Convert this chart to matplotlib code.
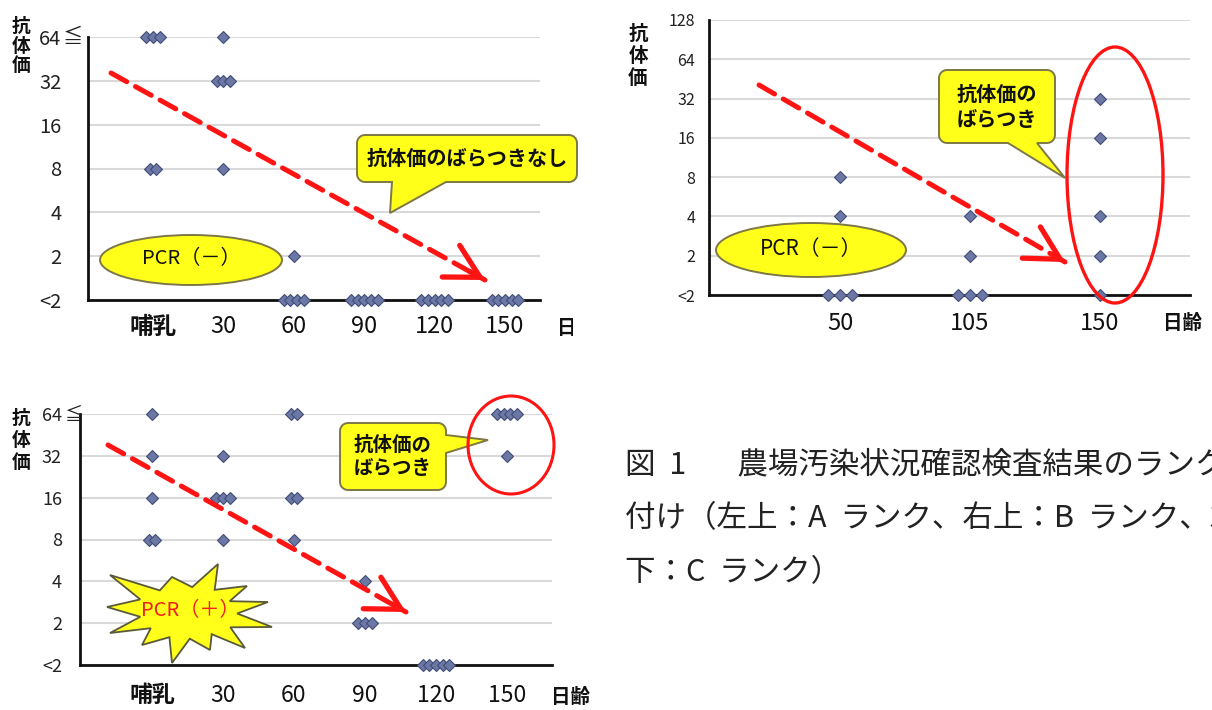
import matplotlib
matplotlib.use('Agg')
import matplotlib.pyplot as plt
import numpy as np
from matplotlib.patches import Ellipse, Polygon
from matplotlib.transforms import Affine2D, Bbox, TransformedBbox
from matplotlib.ticker import NullLocator

plt.rcParams['font.family'] = ['Noto Sans CJK JP', 'DejaVu Sans']

# ---------------- data ----------------
LT2 = 1  # "<2"
days_A = ['哺乳', '30', '60', '90', '120', '150']
titers_A = [[64, 64, 64, 8, 8],
            [64, 32, 32, 32, 8],
            [2, 1, 1, 1, 1],
            [1, 1, 1, 1, 1],
            [1, 1, 1, 1, 1],
            [1, 1, 1, 1, 1]]

days_B = ['50', '105', '150']
titers_B = [[8, 4, 1, 1, 1],
            [4, 2, 1, 1, 1],
            [32, 16, 4, 2, 1]]

days_C = ['哺乳', '30', '60', '90', '120', '150']
titers_C = [[64, 32, 16, 8, 8],
            [32, 16, 16, 16, 8],
            [64, 64, 16, 16, 8],
            [4, 2, 2, 2],
            [1, 1, 1, 1, 1],
            [64, 64, 64, 64, 32]]

yticks_AC = [1, 2, 4, 8, 16, 32, 64]
ylabels_AC = ['<2', '2', '4', '8', '16', '32', '64']
yticks_B = [1, 2, 4, 8, 16, 32, 64, 128]
ylabels_B = ['<2', '2', '4', '8', '16', '32', '64', '128']

caption_lines = ['図  1　   農場汚染状況確認検査結果のランク',
                 '付け（左上：A  ランク、右上：B  ランク、左',
                 '下：C  ランク）']

# ---------------- figure ----------------
W, H = 1212, 710
fig = plt.figure(figsize=(W / 100, H / 100), dpi=100)
fig.patch.set_facecolor('white')
# transform in reference-pixel space (origin top-left, y down)
T = Affine2D().scale(1 / W, -1 / H).translate(0, 1) + fig.transFigure


def px_axes(l, t, r, b):
    return fig.add_axes([l / W, 1 - b / H, (r - l) / W, (b - t) / H])


MFC = '#6b77a4'
MEC = '#414c78'
YEL = '#ffff1a'
YEDGE = '#7d7845'
RED = '#ff1414'


def base_axes(ax, days, titers, yt, yl, ytop, xlim, ypad, ysize, xpad, xsize):
    ax.set_yscale('log', base=2)
    ax.set_ylim(1, ytop)
    ax.set_xlim(*xlim)
    ax.set_yticks(yt)
    ax.set_yticklabels(yl)
    ax.yaxis.set_minor_locator(NullLocator())
    ax.set_xticks(range(len(days)))
    ax.set_xticklabels(days)
    ax.grid(axis='y', color='#d9d9d9', lw=1.5, zorder=0)
    ax.set_axisbelow(True)
    for s in ['top', 'right']:
        ax.spines[s].set_visible(False)
    for s in ['left', 'bottom']:
        ax.spines[s].set_color('#111111')
        ax.spines[s].set_linewidth(2.0)
    ax.tick_params(axis='y', length=0, pad=ypad, labelsize=ysize, labelcolor='#222222')
    ax.tick_params(axis='x', length=0, pad=xpad, labelsize=xsize, labelcolor='#111111')
    for lab in ax.get_xticklabels():
        if lab.get_text() == '哺乳':
            lab.set_fontweight('bold')
    for i, vals in enumerate(titers):
        for v in sorted(set(vals)):
            n = vals.count(v)
            xs = [i + (k - (n - 1) / 2) * 0.095 for k in range(n)]
            ax.plot(xs, [v] * n, ls='none', marker='D', ms=6.3, mfc=MFC, mec=MEC,
                    mew=0.8, clip_on=False, zorder=3)


def red_arrow(ax, p0, p1):
    ax.annotate('', xy=p1, xytext=p0, xycoords=T, textcoords=T, annotation_clip=False,
                arrowprops=dict(arrowstyle='-', color=RED, lw=3.6,
                                linestyle=(0, (3.6, 2.0)), shrinkA=0, shrinkB=0,
                                capstyle='round'), zorder=6)
    q = (p0[0] + 0.96 * (p1[0] - p0[0]), p0[1] + 0.96 * (p1[1] - p0[1]))
    ax.annotate('', xy=p1, xytext=q, xycoords=T, textcoords=T, annotation_clip=False,
                arrowprops=dict(arrowstyle='->,head_length=1.2,head_width=0.65',
                                color=RED, lw=3.8, shrinkA=0, shrinkB=0,
                                mutation_scale=20), zorder=6)


def callout(ax, box, tail, rad=8):
    l, t, r, b = box
    pts = []

    def arc(cx, cy, a0, a1):
        for a in np.linspace(a0, a1, 8):
            pts.append((cx + rad * np.cos(a), cy + rad * np.sin(a)))
    arc(l + rad, t + rad, np.pi, 1.5 * np.pi)
    arc(r - rad, t + rad, 1.5 * np.pi, 2 * np.pi)
    if tail[0] == 'right':
        pts.extend([(r, tail[1]), tail[3], (r, tail[2])])
    arc(r - rad, b - rad, 0, 0.5 * np.pi)
    if tail[0] == 'bottom':
        pts.extend([(tail[2], b), tail[3], (tail[1], b)])
    arc(l + rad, b - rad, 0.5 * np.pi, np.pi)
    ax.add_patch(Polygon(pts, closed=True, transform=T, fc=YEL, ec=YEDGE, lw=1.4,
                         clip_on=False, zorder=5))


def ylabel_vert(ax, x, y, size, ls):
    ax.text(x, y, '抗\n体\n価', transform=T, ha='center', va='center', fontsize=size,
            fontweight='bold', linespacing=ls, color='#111111', clip_on=False)


# ---------------- panel A ----------------
axA = px_axes(88, 37, 540, 300)
base_axes(axA, days_A, titers_A, yticks_AC, ylabels_AC, 64,
          ((88 - 153) / 70.4, (540 - 153) / 70.4), 19, 14.5, 11, 17)
axA.text(63, 38, '≦', transform=T, ha='left', va='center', fontsize=14.5, color='#222222')
ylabel_vert(axA, 21, 46, 13.5, 1.05)
tA = axA.text(557, 328, '日齢', transform=T, ha='left', va='center', fontsize=14,
              fontweight='bold', color='#111111')
tA.set_clip_box(TransformedBbox(Bbox([[0, 0], [573 / W, 1]]), fig.transFigure))
tA.set_clip_on(True)
axA.add_patch(Ellipse((191, 260), 182, 50, transform=T, fc=YEL, ec=YEDGE, lw=1.4,
                      clip_on=False, zorder=4))
axA.text(191, 259, 'PCR（－）', transform=T, ha='center', va='center', fontsize=14.5,
         color='#111111', zorder=5)
callout(axA, (357, 135, 577, 182), ('bottom', 392, 446, (390, 213)))
axA.text(467, 158, '抗体価のばらつきなし', transform=T, ha='center', va='center',
         fontsize=14.5, fontweight='bold', color='#111111', zorder=6)
red_arrow(axA, (111, 73), (485, 280))

# ---------------- panel B ----------------
axB = px_axes(709, 20, 1190, 295)
base_axes(axB, days_B, titers_B, yticks_B, ylabels_B, 128,
          ((709 - 840) / 130, (1190 - 840) / 130), 10, 11.5, 12, 17)
ylabel_vert(axB, 638, 56, 14, 1.2)
axB.text(1163, 323, '日齢', transform=T, ha='left', va='center', fontsize=14,
         fontweight='bold', color='#111111')
axB.add_patch(Ellipse((811, 250), 190, 54, transform=T, fc=YEL, ec=YEDGE, lw=1.4,
                      clip_on=False, zorder=4))
axB.text(811, 249, 'PCR（－）', transform=T, ha='center', va='center', fontsize=15,
         color='#111111', zorder=5)
callout(axB, (939, 70, 1055, 143), ('bottom', 1008, 1037, (1065, 178)))
axB.text(997, 107, '抗体価の\nばらつき', transform=T, ha='center', va='center',
         fontsize=14.5, fontweight='bold', linespacing=1.25, color='#111111', zorder=6)
axB.add_patch(Ellipse((1115, 175), 96, 256, transform=T, fc='none', ec=RED, lw=2.4,
                      clip_on=False, zorder=6))
red_arrow(axB, (759, 85), (1065, 262))

# ---------------- panel C ----------------
axC = px_axes(80, 414, 552, 665)
base_axes(axC, days_C, titers_C, yticks_AC, ylabels_AC, 64,
          ((80 - 152) / 71, (552 - 152) / 71), 13, 13, 14, 16.5)
axC.text(64, 415, '≦', transform=T, ha='left', va='center', fontsize=13, color='#222222')
ylabel_vert(axC, 21, 440, 13.5, 1.2)
axC.text(551, 697, '日齢', transform=T, ha='left', va='center', fontsize=14,
         fontweight='bold', color='#111111')
tips = [(110, 575), (172, 577), (218, 564), (247, 586), (268, 602), (272, 627),
        (245, 648), (210, 650), (172, 663), (142, 645), (110, 633), (107, 607)]
cx, cy = 188, 612
star = []
for k in range(len(tips)):
    a = tips[k]
    b2 = tips[(k + 1) % len(tips)]
    star.append(a)
    mx, my = (a[0] + b2[0]) / 2 - cx, (a[1] + b2[1]) / 2 - cy
    star.append((cx + 0.6 * mx, cy + 0.6 * my))
axC.add_patch(Polygon(star, closed=True, transform=T, fc=YEL, ec='#5a5a3a', lw=1.3,
                      clip_on=False, zorder=4))
axC.text(190, 611, 'PCR（＋）', transform=T, ha='center', va='center', fontsize=14.5,
         color='#f01e1e', zorder=5)
callout(axC, (340, 423, 446, 490), ('right', 435, 453, (488, 440)))
axC.text(393, 457, '抗体価の\nばらつき', transform=T, ha='center', va='center',
         fontsize=14, fontweight='bold', linespacing=1.25, color='#111111', zorder=6)
axC.add_patch(Ellipse((511, 445), 86, 98, transform=T, fc='none', ec=RED, lw=2.2,
                      clip_on=False, zorder=6))
red_arrow(axC, (108, 445), (406, 612))

# ---------------- caption ----------------
for i, line in enumerate(caption_lines):
    fig.text(625, 465 + 54 * i, line, transform=T, ha='left', va='center',
             fontsize=22, color='#222222')

fig.savefig('out.png', dpi=100, facecolor='white')
